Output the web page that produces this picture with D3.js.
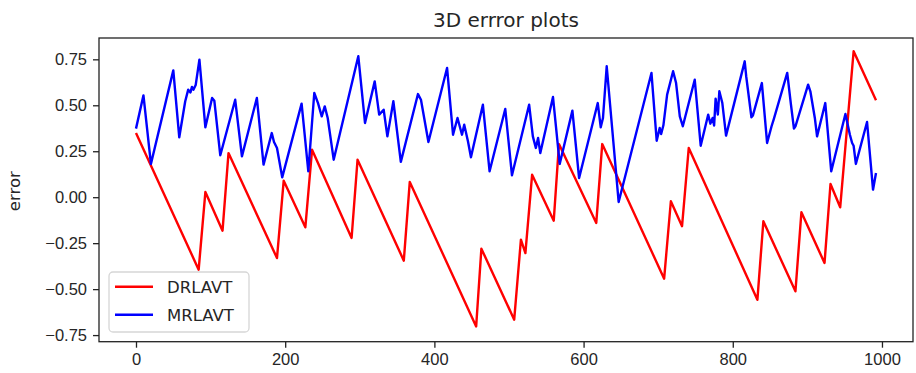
<!DOCTYPE html>
<html>
<head>
<meta charset="utf-8">
<script src="https://cdn.jsdelivr.net/npm/d3@7"></script>
<style>
  html, body { margin: 0; padding: 0; background: #fff; }
  svg { display: block; font-family: "DejaVu Sans", sans-serif; }
</style>
</head>
<body>
<div id="chart"></div>
<script>
// vertices of each series
const drlavtX = [0, 84, 93, 116, 124, 189, 198, 227, 236, 289, 297, 359, 367, 456, 463, 507, 516, 522, 531, 560, 567, 617, 625, 708, 717, 732, 741, 833, 841, 884, 892, 923, 931, 944, 962, 992];
const drlavtY = [0.349, -0.394, 0.028, -0.182, 0.240, -0.331, 0.090, -0.164, 0.258, -0.222, 0.204, -0.345, 0.083, -0.703, -0.280, -0.666, -0.231, -0.304, 0.122, -0.128, 0.289, -0.140, 0.289, -0.443, -0.022, -0.158, 0.268, -0.558, -0.131, -0.512, -0.082, -0.358, 0.072, -0.055, 0.794, 0.527];

const mrlavtX = [0, 10, 20, 50, 58, 66, 70, 73, 75, 77, 80, 85, 93, 102, 105, 113, 133, 142, 162, 171, 182, 185, 189, 192, 196, 222, 231, 239, 244, 249, 253, 257, 265, 298, 307, 320, 326, 332, 337, 345, 355, 378, 382, 392, 417, 425, 431, 437, 440, 445, 449, 465, 474, 495, 504, 527, 532, 536, 539, 542, 559, 568, 585, 594, 619, 623, 626, 631, 647, 691, 698, 702, 704, 707, 712, 720, 724, 729, 733, 749, 757, 767, 770, 773, 775, 777, 780, 782, 786, 791, 816, 818, 825, 827, 839, 846, 852, 855, 873, 878, 882, 884, 901, 904, 910, 913, 924, 932, 951, 957, 960, 962, 965, 980, 988, 992];
const mrlavtY = [0.373, 0.554, 0.181, 0.690, 0.326, 0.522, 0.585, 0.570, 0.600, 0.585, 0.610, 0.748, 0.380, 0.540, 0.525, 0.228, 0.530, 0.222, 0.540, 0.177, 0.349, 0.300, 0.268, 0.200, 0.108, 0.509, 0.141, 0.567, 0.512, 0.440, 0.494, 0.431, 0.204, 0.767, 0.404, 0.630, 0.449, 0.476, 0.331, 0.522, 0.192, 0.561, 0.530, 0.300, 0.703, 0.340, 0.431, 0.340, 0.394, 0.304, 0.217, 0.503, 0.141, 0.480, 0.119, 0.503, 0.331, 0.268, 0.322, 0.240, 0.545, 0.181, 0.471, 0.104, 0.512, 0.380, 0.431, 0.712, -0.026, 0.676, 0.307, 0.377, 0.344, 0.391, 0.558, 0.685, 0.621, 0.440, 0.386, 0.639, 0.280, 0.449, 0.400, 0.431, 0.390, 0.536, 0.450, 0.576, 0.512, 0.335, 0.739, 0.658, 0.435, 0.445, 0.621, 0.295, 0.386, 0.425, 0.676, 0.503, 0.373, 0.385, 0.612, 0.576, 0.431, 0.331, 0.512, 0.141, 0.453, 0.340, 0.295, 0.280, 0.181, 0.409, 0.041, 0.132];

const xTicks = [0, 200, 400, 600, 800, 1000];
const yTicks = [-0.75, -0.5, -0.25, 0, 0.25, 0.5, 0.75];
const seriesNames = ["DRLAVT", "MRLAVT"];
const seriesColors = ["#ff0000", "#0000ff"];

const width = 916, height = 373;
const margin = {left: 99, top: 38, right: 3, bottom: 31.3};
const innerW = width - margin.left - margin.right;
const innerH = height - margin.top - margin.bottom;

const svg = d3.select("#chart").append("svg")
  .attr("width", width)
  .attr("height", height);

const x = d3.scaleLinear().domain([-49.6, 1041.6]).range([0, innerW]);
const y = d3.scaleLinear().domain([-0.786, 0.866]).range([innerH, 0]);

const g = svg.append("g")
  .attr("transform", `translate(${margin.left},${margin.top})`);

// lines
const series = [
  {name: seriesNames[0], color: seriesColors[0], pts: drlavtX.map((v, i) => [v, drlavtY[i]])},
  {name: seriesNames[1], color: seriesColors[1], pts: mrlavtX.map((v, i) => [v, mrlavtY[i]])}
];

const line = d3.line()
  .x(d => x(d[0]))
  .y(d => y(d[1]));

g.selectAll(".series")
  .data(series)
  .enter().append("path")
  .attr("class", "series")
  .attr("d", d => line(d.pts))
  .attr("fill", "none")
  .attr("stroke", d => d.color)
  .attr("stroke-width", 2.4)
  .attr("stroke-linejoin", "round");

// axes
const xAxis = g.append("g")
  .attr("transform", `translate(0,${innerH})`)
  .call(d3.axisBottom(x).tickValues(xTicks).tickSize(6).tickPadding(6).tickFormat(d3.format("d")));
const yAxis = g.append("g")
  .call(d3.axisLeft(y).tickValues(yTicks).tickSize(6).tickPadding(6).tickFormat(d3.format(".2f")));

[xAxis, yAxis].forEach(a => {
  a.select(".domain").remove();
  a.selectAll(".tick line").attr("stroke", "#222").attr("stroke-width", 1.3);
  a.selectAll(".tick text").attr("fill", "#262626").style("font-size", "16.5px");
});

// frame
g.append("rect")
  .attr("width", innerW)
  .attr("height", innerH)
  .attr("fill", "none")
  .attr("stroke", "#222")
  .attr("stroke-width", 1.3);

// title and label
svg.append("text")
  .attr("x", margin.left + innerW / 2)
  .attr("y", 27)
  .attr("text-anchor", "middle")
  .attr("fill", "#262626")
  .style("font-size", "20px")
  .text("3D errror plots");

svg.append("text")
  .attr("transform", `translate(20,${margin.top + y(0) - 6}) rotate(-90)`)
  .attr("text-anchor", "middle")
  .attr("fill", "#262626")
  .style("font-size", "16.5px")
  .text("error");

// legend
const legend = svg.append("g").attr("transform", "translate(109,272)");
legend.append("rect")
  .attr("width", 140)
  .attr("height", 60)
  .attr("rx", 4)
  .attr("fill", "#fff")
  .attr("fill-opacity", 0.8)
  .attr("stroke", "#d6d6d6")
  .attr("stroke-width", 1.3);

const item = legend.selectAll(".item")
  .data(series)
  .enter().append("g")
  .attr("class", "item")
  .attr("transform", (d, i) => `translate(0,${14.7 + i * 28})`);

item.append("line")
  .attr("x1", 6).attr("x2", 44)
  .attr("stroke", d => d.color)
  .attr("stroke-width", 2.4);

item.append("text")
  .attr("x", 58)
  .attr("dy", "0.36em")
  .attr("fill", "#262626")
  .style("font-size", "16.5px")
  .text(d => d.name);
</script>
</body>
</html>
